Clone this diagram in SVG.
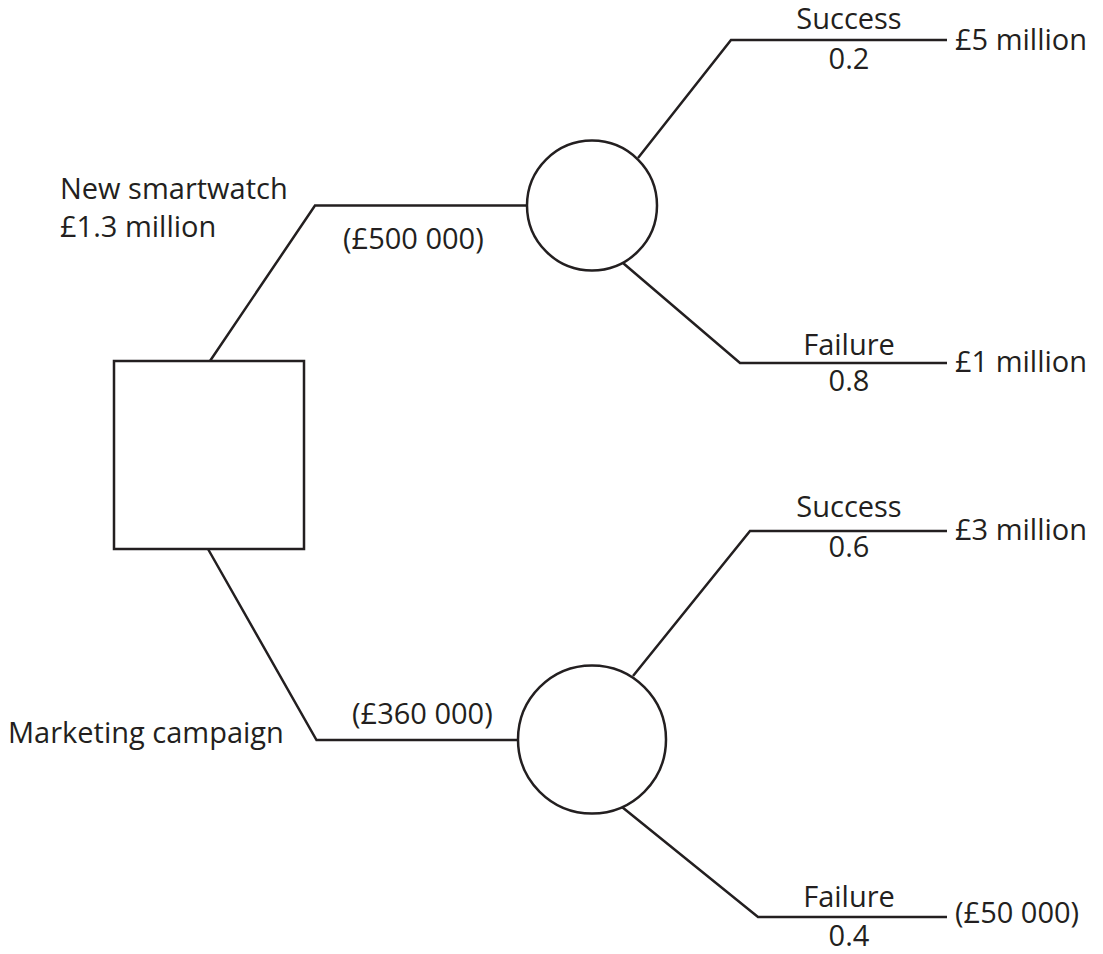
<svg xmlns="http://www.w3.org/2000/svg" width="1103" height="954" viewBox="0 0 1103 954">
<style>
.ln{fill:none;stroke:#231f20;stroke-width:2.5;stroke-linejoin:miter}
.nd{fill:#fff;stroke:#231f20;stroke-width:2.5}
text{font-family:"Open Sans","Liberation Sans",sans-serif;font-size:29px;fill:#231f20}
.c{text-anchor:middle}
</style>
<rect width="1103" height="954" fill="#fff"/>
<g id="connectors">
<polyline class="ln" points="210,361 315,205.5 527,205.5"/>
<polyline class="ln" points="208,549 316.5,740 518,740"/>
<polyline class="ln" points="638,158 731,40 947,40"/>
<polyline class="ln" points="623,263 740,363 947,363"/>
<polyline class="ln" points="633,676 750,531 947,531"/>
<polyline class="ln" points="622,807 758,917 947,917"/>
</g>
<g id="decision">
<rect class="nd" x="114" y="361" width="190" height="188"/>
</g>
<g id="chance1">
<circle class="nd" cx="592" cy="205.5" r="65"/>
</g>
<g id="chance2">
<circle class="nd" cx="592" cy="739.5" r="74"/>
</g>
<g id="labels">
<text x="60" y="199">New smartwatch</text>
<text x="60" y="237">£1.3 million</text>
<text x="343" y="249">(£500 000)</text>
<text x="8" y="743">Marketing campaign</text>
<text x="352" y="724">(£360 000)</text>
<text class="c" x="849" y="29">Success</text>
<text class="c" x="849" y="69">0.2</text>
<text x="955" y="50">£5 million</text>
<text class="c" x="849" y="355">Failure</text>
<text class="c" x="849" y="391">0.8</text>
<text x="955" y="372">£1 million</text>
<text class="c" x="849" y="517">Success</text>
<text class="c" x="849" y="557">0.6</text>
<text x="955" y="540">£3 million</text>
<text class="c" x="849" y="907">Failure</text>
<text class="c" x="849" y="946">0.4</text>
<text x="955" y="923">(£50 000)</text>
</g>
</svg>
